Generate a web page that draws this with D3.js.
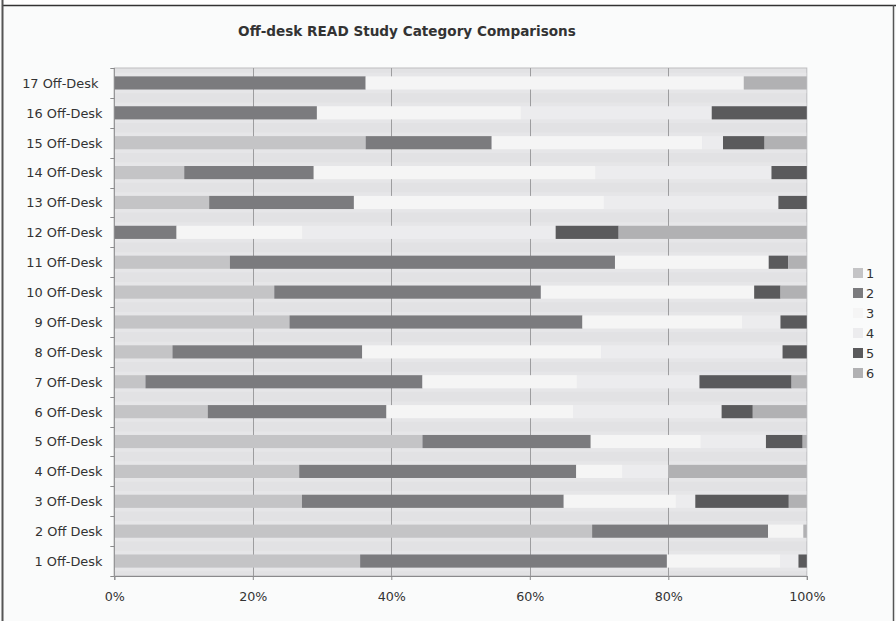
<!DOCTYPE html>
<head>
    <title>Off-desk READ Study Category Comparisons</title>
    <script src='https://d3js.org/d3.v7.min.js'></script>
    <style>
        body { margin: 0; background: #fff; }
        text { font-family: 'DejaVu Sans', Verdana, sans-serif; fill: #333; }
    </style>
</head>
<body>
    <svg></svg>
</body>

<script>
    // Categories, bottom to top
    var vCategories = ['1 Off-Desk', '2 Off Desk', '3 Off-Desk', '4 Off-Desk', '5 Off-Desk', '6 Off-Desk',
        '7 Off-Desk', '8 Off-Desk', '9 Off-Desk', '10 Off-Desk', '11 Off-Desk', '12 Off-Desk',
        '13 Off-Desk', '14 Off-Desk', '15 Off-Desk', '16 Off-Desk', '17 Off-Desk '];

    // Series values (percent share per category, same order as vCategories)
    var vSeries1 = [35.5, 69.0, 27.1, 26.7, 44.5, 13.5, 4.5, 8.4, 25.3, 23.1, 16.7, 0, 13.7, 10.1, 36.3, 0, 0];
    var vSeries2 = [44.3, 25.4, 37.8, 40.0, 24.3, 25.8, 40.0, 27.4, 42.3, 38.5, 55.6, 9.0, 20.9, 18.7, 18.2, 29.2, 36.3];
    var vSeries3 = [16.4, 5.1, 16.2, 6.7, 15.9, 27.0, 22.3, 34.5, 23.1, 30.8, 22.2, 18.2, 36.1, 40.7, 30.4, 29.4, 54.6];
    var vSeries4 = [2.6, 0, 2.8, 6.6, 9.4, 21.4, 17.7, 26.2, 5.5, 0, 0, 36.6, 25.2, 25.4, 3.0, 27.5, 0];
    var vSeries5 = [1.2, 0, 13.5, 0, 5.3, 4.5, 13.3, 3.5, 3.8, 3.8, 2.8, 9.1, 4.1, 5.1, 6.0, 13.7, 0];
    var vSeries6 = [0, 0.5, 2.6, 20.0, 0.6, 7.8, 2.2, 0, 0, 3.8, 2.7, 27.2, 0, 0, 6.1, 0, 9.1];

    var vKeys = ['1', '2', '3', '4', '5', '6'];
    var vTicks = [0, 0.2, 0.4, 0.6, 0.8, 1];
    var vColors = ['#c4c4c6', '#7b7b7e', '#f5f5f5', '#ececee', '#5a5a5c', '#b1b1b3'];

    var vWidth = 896;
    var vHeight = 621;
    var vPlot = { left: 114.3, right: 806.8, top: 68, bottom: 576 };

    // Build rows for d3.stack from the named arrays
    var vAll = [vSeries1, vSeries2, vSeries3, vSeries4, vSeries5, vSeries6];
    var vRows = vCategories.map(function (c, i) {
        var r = { cat: c };
        vKeys.forEach(function (k, j) { r[k] = vAll[j][i]; });
        return r;
    });

    var svg = d3.select('svg').attr('width', vWidth).attr('height', vHeight);

    // Chart background + frame
    svg.append('rect').attr('x', 0).attr('y', 0).attr('width', vWidth).attr('height', vHeight).attr('fill', '#fafbfb');
    svg.append('rect').attr('x', 0).attr('y', 0).attr('width', vWidth).attr('height', 5).attr('fill', '#fff');
    svg.append('line').attr('x1', 2).attr('x2', vWidth).attr('y1', 5.5).attr('y2', 5.5)
        .attr('stroke', '#333').attr('stroke-width', 1.5);
    svg.append('line').attr('x1', 2.5).attr('x2', 2.5).attr('y1', 0).attr('y2', vHeight)
        .attr('stroke', '#555').attr('stroke-width', 2);
    svg.append('line').attr('x1', 893.5).attr('x2', 893.5).attr('y1', 5).attr('y2', vHeight)
        .attr('stroke', '#555').attr('stroke-width', 1.5);

    // Scales
    var x = d3.scaleLinear().domain([0, 1]).range([vPlot.left, vPlot.right]);
    var y = d3.scaleBand().domain(vCategories.slice().reverse())
        .range([vPlot.top, vPlot.bottom]).paddingInner(0.56).paddingOuter(0.28);
    var vColor = d3.scaleOrdinal().domain(vKeys).range(vColors);

    var vStack = d3.stack().keys(vKeys).offset(d3.stackOffsetExpand);
    var vLayers = vStack(vRows);

    // Plot area
    svg.append('rect').attr('x', vPlot.left).attr('y', vPlot.top)
        .attr('width', vPlot.right - vPlot.left).attr('height', vPlot.bottom - vPlot.top)
        .attr('fill', '#e2e2e4').attr('stroke', '#bdbdbf');

    // Lighter stripe behind each bar
    var vStep = y.step();
    svg.append('g').selectAll('rect').data(vCategories).enter().append('rect')
        .attr('x', vPlot.left + 0.5)
        .attr('y', function (d) { return y(d) + y.bandwidth() / 2 - vStep * 0.34; })
        .attr('width', vPlot.right - vPlot.left - 1)
        .attr('height', vStep * 0.68)
        .attr('fill', '#e6e6e8');

    // Gridlines
    svg.append('g').selectAll('line').data(vTicks.slice(1, -1)).enter().append('line')
        .attr('x1', function (d) { return Math.round(x(d)) + 0.5; })
        .attr('x2', function (d) { return Math.round(x(d)) + 0.5; })
        .attr('y1', vPlot.top).attr('y2', vPlot.bottom)
        .attr('stroke', '#9d9d9f');

    // Bars
    svg.append('g').selectAll('g').data(vLayers).enter().append('g')
        .attr('fill', function (d) { return vColor(d.key); })
        .selectAll('rect').data(function (d) { return d; }).enter().append('rect')
        .attr('x', function (d) { return x(d[0]); })
        .attr('y', function (d) { return y(d.data.cat); })
        .attr('width', function (d) { return Math.max(0, x(d[1]) - x(d[0])); })
        .attr('height', y.bandwidth());

    // Axes
    var gx = svg.append('g').attr('transform', 'translate(0,' + vPlot.bottom + ')')
        .call(d3.axisBottom(x).tickValues(vTicks).tickFormat(d3.format('.0%')).tickSize(4).tickPadding(12));
    gx.select('.domain').attr('stroke', '#8a8a8c');
    gx.selectAll('.tick line').attr('stroke', '#8a8a8c');
    gx.selectAll('text').style('font-size', '12.7px').attr('fill', '#444');

    // Y axis: ticks at the band boundaries, labels at band centres
    svg.append('line').attr('x1', vPlot.left).attr('x2', vPlot.left)
        .attr('y1', vPlot.top).attr('y2', vPlot.bottom).attr('stroke', '#8a8a8c');
    var vBounds = d3.range(vCategories.length + 1);
    svg.append('g').selectAll('line').data(vBounds).enter().append('line')
        .attr('x1', vPlot.left - 4).attr('x2', vPlot.left)
        .attr('y1', function (d) { return Math.round(vPlot.top + d * vStep) + 0.5; })
        .attr('y2', function (d) { return Math.round(vPlot.top + d * vStep) + 0.5; })
        .attr('stroke', '#8a8a8c');
    svg.append('g').selectAll('text').data(vCategories).enter().append('text')
        .attr('x', 102.5)
        .attr('y', function (d) { return y(d) + y.bandwidth() / 2; })
        .attr('dy', '0.38em')
        .attr('text-anchor', 'end')
        .style('white-space', 'pre')
        .style('font-size', '12.9px')
        .attr('fill', '#444')
        .text(function (d) { return d; });

    // Title
    svg.append('text').attr('x', 407).attr('y', 36).attr('text-anchor', 'middle')
        .style('font-size', '13.6px').style('font-weight', 'bold').attr('fill', '#2b2b2b')
        .text('Off-desk READ Study Category Comparisons');

    // Legend
    var vLegend = svg.append('g').selectAll('g').data(vKeys).enter().append('g')
        .attr('transform', function (d, i) { return 'translate(853,' + (273 + i * 20) + ')'; });
    vLegend.append('rect').attr('x', 0).attr('y', -5).attr('width', 10).attr('height', 10)
        .attr('fill', function (d) { return vColor(d); });
    vLegend.append('text').attr('x', 13).attr('dy', '0.38em')
        .style('font-size', '12.9px').attr('fill', '#444')
        .text(function (d) { return d; });
</script>
